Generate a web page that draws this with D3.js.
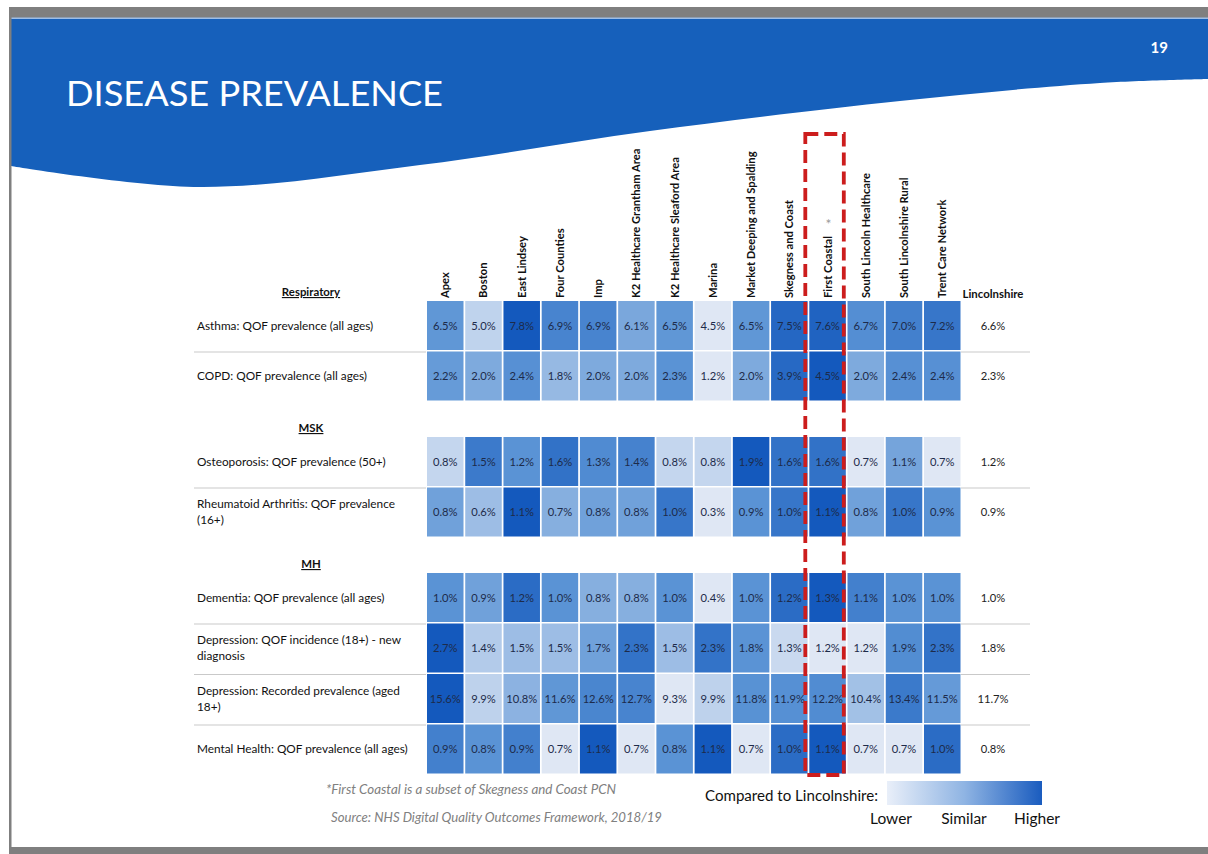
<!DOCTYPE html>
<html><head><meta charset="utf-8">
<script src="https://cdn.jsdelivr.net/npm/d3@7/dist/d3.min.js"></script>
<style>
body{margin:0;background:#fff;}
text{font-family:Lato,"Open Sans",sans-serif;}
</style></head>
<body><svg id="chart" width="1208" height="854"></svg>
<script>
// ---------- data ----------
const columns = ["Apex","Boston","East Lindsey","Four Counties","Imp","K2 Healthcare Grantham Area","K2 Healthcare Sleaford Area","Marina","Market Deeping and Spalding","Skegness and Coast","First Coastal","South Lincoln Healthcare","South Lincolnshire Rural","Trent Care Network"];
const sections = ["Respiratory","MSK","MH"];
const indicators = ["Asthma: QOF prevalence (all ages)","COPD: QOF prevalence (all ages)","Osteoporosis: QOF prevalence (50+)","Rheumatoid Arthritis: QOF prevalence\n(16+)","Dementia: QOF prevalence (all ages)","Depression: QOF incidence (18+) - new\ndiagnosis","Depression: Recorded prevalence (aged\n18+)","Mental Health: QOF prevalence (all ages)"];
const indicatorSection = [0,0,1,1,2,2,2,2];
const asthma     = [6.5,5.0,7.8,6.9,6.9,6.1,6.5,4.5,6.5,7.5,7.6,6.7,7.0,7.2];
const copd       = [2.2,2.0,2.4,1.8,2.0,2.0,2.3,1.2,2.0,3.9,4.5,2.0,2.4,2.4];
const osteo      = [0.8,1.5,1.2,1.6,1.3,1.4,0.8,0.8,1.9,1.6,1.6,0.7,1.1,0.7];
const rheum      = [0.8,0.6,1.1,0.7,0.8,0.8,1.0,0.3,0.9,1.0,1.1,0.8,1.0,0.9];
const dementia   = [1.0,0.9,1.2,1.0,0.8,0.8,1.0,0.4,1.0,1.2,1.3,1.1,1.0,1.0];
const depIncid   = [2.7,1.4,1.5,1.5,1.7,2.3,1.5,2.3,1.8,1.3,1.2,1.2,1.9,2.3];
const depPrev    = [15.6,9.9,10.8,11.6,12.6,12.7,9.3,9.9,11.8,11.9,12.2,10.4,13.4,11.5];
const mentalH    = [0.9,0.8,0.9,0.7,1.1,0.7,0.8,1.1,0.7,1.0,1.1,0.7,0.7,1.0];
const lincolnshire = [6.6,2.3,1.2,0.9,1.0,1.8,11.7,0.8];
const highlightColumn = "First Coastal";
const legendLabels = ["Lower","Similar","Higher"];

const values = [asthma,copd,osteo,rheum,dementia,depIncid,depPrev,mentalH];

// ---------- layout ----------
const svg = d3.select("#chart");
const W = 1208, H = 854;
const blue = "#1660bb";
const cLight = "#dfe7f4", cMid = "#5a93d5", cDark = "#1459bd";

// Header banner
svg.append("rect").attr("x",10).attr("y",7).attr("width",W-10).attr("height",11).attr("fill","#7f7f7f");
const wavePts = [[1208,79],[1100,83],[900,101],[650,131],[420,165],[200,187],[11,166]];
const waveLine = d3.line().curve(d3.curveCatmullRom.alpha(0.5));
svg.append("path").attr("d", "M11,18 L1208,18 " + waveLine(wavePts).replace(/^M/,"L") + " Z").attr("fill",blue);
svg.append("rect").attr("x",11).attr("y",17.5).attr("width",W-11).attr("height",1.5).attr("fill","#9dbde6");
// left frame and bottom bar
svg.append("rect").attr("x",9).attr("y",7).attr("width",2.5).attr("height",842).attr("fill","#7f7f7f");
svg.append("rect").attr("x",9).attr("y",847).attr("width",W-9).attr("height",7).attr("fill","#7f7f7f");

svg.append("text").attr("x",66).attr("y",106).attr("fill","#fff")
  .attr("font-size",34).attr("textLength",377).attr("lengthAdjust","spacingAndGlyphs")
  .text("DISEASE PREVALENCE");
svg.append("text").attr("x",1168).attr("y",53).attr("fill","#fff").attr("font-size",15)
  .attr("font-weight","bold").attr("text-anchor","end").text("19");

// scales
const x = d3.scaleBand().domain(columns).range([427,960.5]).paddingInner(0.045);
const rowH = 50.5, secGap = 35, top0 = 301;
const rowY = d3.scaleLinear().domain([0,1]).range([top0, top0+rowH]);
const yOf = i => rowY(i) + indicatorSection[i]*secGap;
const lincX = 993;

// column headers
svg.append("g").selectAll("text").data(columns).join("text")
  .attr("transform", d => `translate(${x(d)+x.bandwidth()/2+4},298) rotate(-90)`)
  .attr("font-size",11.2).attr("font-weight","bold").attr("fill","#111")
  .text(d => d);
svg.append("text").attr("x", x(highlightColumn)+x.bandwidth()/2+1).attr("y",229)
  .attr("text-anchor","middle").attr("font-size",14).attr("fill","#9a9a9a").text("*");
svg.append("text").attr("x",lincX).attr("y",298).attr("text-anchor","middle")
  .attr("font-size",11.4).attr("font-weight","bold").attr("fill","#111").text("Lincolnshire");

// section headers
const secFirstRow = sections.map((s,si) => indicatorSection.indexOf(si));
svg.append("g").selectAll("text").data(sections).join("text")
  .attr("x",311).attr("y",(d,si) => yOf(secFirstRow[si]) - 5)
  .attr("text-anchor","middle").attr("font-size",11.4).attr("font-weight","bold")
  .attr("fill","#111").style("text-decoration","underline").text(d => d);

// divider lines between rows in same section
const dividers = d3.range(1, indicators.length).filter(i => indicatorSection[i] === indicatorSection[i-1]);
const gl = svg.append("g").attr("stroke","#c9c9c9").attr("stroke-width",1);
gl.selectAll("line.l").data(dividers).join("line").attr("class","l")
  .attr("x1",194).attr("x2",426).attr("y1",d=>yOf(d)+0.5).attr("y2",d=>yOf(d)+0.5);
gl.selectAll("line.r").data(dividers).join("line").attr("class","r")
  .attr("x1",961).attr("x2",1030).attr("y1",d=>yOf(d)+0.5).attr("y2",d=>yOf(d)+0.5);

// row labels
const labG = svg.append("g").selectAll("text").data(indicators).join("text")
  .attr("font-size",11.8).attr("fill","#111");
labG.each(function(d,i){
  const lines = d.split("\n");
  const cy = yOf(i) + (rowH-1.5)/2;
  const t = d3.select(this);
  lines.forEach((ln,k) => {
    t.append("tspan").attr("x",197)
      .attr("y", cy + 4 + (k - (lines.length-1)/2)*16).text(ln);
  });
});

// cells
const cellG = svg.append("g");
values.forEach((row,i) => {
  const color = d3.scaleLinear()
    .domain([d3.min(row), lincolnshire[i], d3.max(row)])
    .range([cLight, cMid, cDark]).interpolate(d3.interpolateRgb);
  const g = cellG.append("g");
  g.selectAll("rect").data(row).join("rect")
    .attr("x",(d,j)=>x(columns[j])).attr("y",yOf(i))
    .attr("width",x.bandwidth()).attr("height",rowH-1.5)
    .attr("fill",d=>color(d));
  g.selectAll("text").data(row).join("text")
    .attr("x",(d,j)=>x(columns[j])+x.bandwidth()/2).attr("y",yOf(i)+(rowH-1.5)/2+4)
    .attr("text-anchor","middle").attr("font-size",11.2).attr("fill","#1d2b4a")
    .text(d=>d.toFixed(1)+"%");
});
svg.append("g").selectAll("text").data(lincolnshire).join("text")
  .attr("x",lincX).attr("y",(d,i)=>yOf(i)+(rowH-1.5)/2+4).attr("text-anchor","middle")
  .attr("font-size",11.2).attr("fill","#222").text(d=>d.toFixed(1)+"%");

// highlight dashed box
const hx = x(highlightColumn);
svg.append("rect").attr("x",hx-4).attr("y",134).attr("width",x.bandwidth()+2)
  .attr("height",yOf(indicators.length-1)+rowH-134)
  .attr("fill","none").attr("stroke","#cc1d1d").attr("stroke-width",3.8)
  .attr("stroke-dasharray","13,6");

// footer
svg.append("text").attr("x",326).attr("y",794).attr("font-size",12.6).attr("font-style","italic")
  .attr("fill","#808080").attr("textLength",290).attr("lengthAdjust","spacingAndGlyphs")
  .text("*First Coastal is a subset of Skegness and Coast PCN");
svg.append("text").attr("x",331).attr("y",822).attr("font-size",12.6).attr("font-style","italic")
  .attr("fill","#808080").attr("textLength",331).attr("lengthAdjust","spacingAndGlyphs")
  .text("Source: NHS Digital Quality Outcomes Framework, 2018/19");
svg.append("text").attr("x",705).attr("y",801).attr("font-size",14.8).attr("fill","#111")
  .attr("textLength",173).attr("lengthAdjust","spacingAndGlyphs")
  .text("Compared to Lincolnshire:");
const defs = svg.append("defs");
const grad = defs.append("linearGradient").attr("id","lg");
grad.append("stop").attr("offset","0%").attr("stop-color","#e9eff9");
grad.append("stop").attr("offset","50%").attr("stop-color","#8fb4e3");
grad.append("stop").attr("offset","100%").attr("stop-color","#1a5cbf");
svg.append("rect").attr("x",887).attr("y",781).attr("width",155).attr("height",24).attr("fill","url(#lg)");
const legX = d3.scalePoint().domain(legendLabels).range([891,1037]);
svg.append("g").selectAll("text").data(legendLabels).join("text")
  .attr("x",d=>legX(d)).attr("y",824).attr("text-anchor","middle").attr("font-size",15.5)
  .attr("fill","#111").text(d=>d);
</script></body></html>
